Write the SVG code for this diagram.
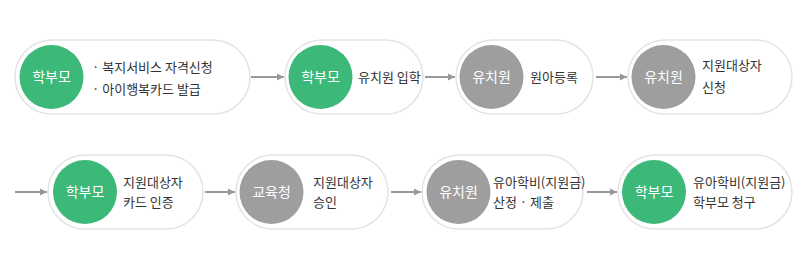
<svg xmlns="http://www.w3.org/2000/svg" width="798" height="258" viewBox="0 0 798 258">
<defs>
<marker id="ah" markerWidth="8" markerHeight="8" refX="7" refY="4" orient="auto" markerUnits="userSpaceOnUse">
<path d="M0,0.5 L7,4 L0,7.5 Z" fill="#999"/>
</marker>
<style>
.pill{fill:#fff;stroke:#e3e3e3;stroke-width:1.5}
.g{fill:#3cb878}
.k{fill:#9e9e9e}
.cl{font-family:"Noto Sans CJK KR","Noto Sans",sans-serif;font-size:14px;fill:#fff;text-anchor:middle}
.t{font-family:"Noto Sans CJK KR","Noto Sans",sans-serif;font-size:13px;fill:#333}
.ar{stroke:#999;stroke-width:2;fill:none;marker-end:url(#ah)}
</style>
</defs>
<rect width="798" height="258" fill="#fff"/>
<g id="connectors">
<line class="ar" x1="251" y1="77" x2="284" y2="77"/>
<line class="ar" x1="425" y1="77" x2="455" y2="77"/>
<line class="ar" x1="596" y1="77" x2="627" y2="77"/>
<line class="ar" x1="15" y1="192" x2="47" y2="192"/>
<line class="ar" x1="205" y1="192" x2="235" y2="192"/>
<line class="ar" x1="391" y1="192" x2="421" y2="192"/>
<line class="ar" x1="587" y1="192" x2="617" y2="192"/>
</g>
<g id="n1">
<rect class="pill" x="15" y="40" width="235" height="74" rx="37"/>
<circle class="g" cx="51.5" cy="77" r="32"/>
<text class="cl" x="51.5" y="82">학부모</text>
<text class="t" x="92" y="72">· 복지서비스 자격신청</text>
<text class="t" x="92" y="94">· 아이행복카드 발급</text>
</g>
<g id="n2">
<rect class="pill" x="285" y="40" width="138" height="74" rx="37"/>
<circle class="g" cx="320.5" cy="77" r="32"/>
<text class="cl" x="320.5" y="82">학부모</text>
<text class="t" x="358" y="82">유치원 입학</text>
</g>
<g id="n3">
<rect class="pill" x="456" y="40" width="137" height="74" rx="37"/>
<circle class="k" cx="491.5" cy="77" r="32"/>
<text class="cl" x="491.5" y="82">유치원</text>
<text class="t" x="530" y="82">원아등록</text>
</g>
<g id="n4">
<rect class="pill" x="628" y="40" width="164" height="74" rx="37"/>
<circle class="k" cx="663.5" cy="77" r="32"/>
<text class="cl" x="663.5" y="82">유치원</text>
<text class="t" x="702" y="70">지원대상자</text>
<text class="t" x="702" y="92">신청</text>
</g>
<g id="n5">
<rect class="pill" x="48" y="155" width="155" height="74" rx="37"/>
<circle class="g" cx="85" cy="192" r="32"/>
<text class="cl" x="85" y="197">학부모</text>
<text class="t" x="123" y="187">지원대상자</text>
<text class="t" x="123" y="207">카드 인증</text>
</g>
<g id="n6">
<rect class="pill" x="236" y="155" width="152" height="74" rx="37"/>
<circle class="k" cx="271.5" cy="192" r="32"/>
<text class="cl" x="271.5" y="197">교육청</text>
<text class="t" x="313" y="187">지원대상자</text>
<text class="t" x="313" y="207">승인</text>
</g>
<g id="n7">
<rect class="pill" x="422" y="155" width="161" height="74" rx="37"/>
<circle class="k" cx="458.5" cy="192" r="32"/>
<text class="cl" x="458.5" y="197">유치원</text>
<text class="t" x="493" y="187">유아학비(지원금)</text>
<text class="t" x="493" y="207">산정 · 제출</text>
</g>
<g id="n8">
<rect class="pill" x="618" y="155" width="174" height="74" rx="37"/>
<circle class="g" cx="654" cy="192" r="32"/>
<text class="cl" x="654" y="197">학부모</text>
<text class="t" x="693" y="187">유아학비(지원금)</text>
<text class="t" x="693" y="207">학부모 청구</text>
</g>
</svg>
